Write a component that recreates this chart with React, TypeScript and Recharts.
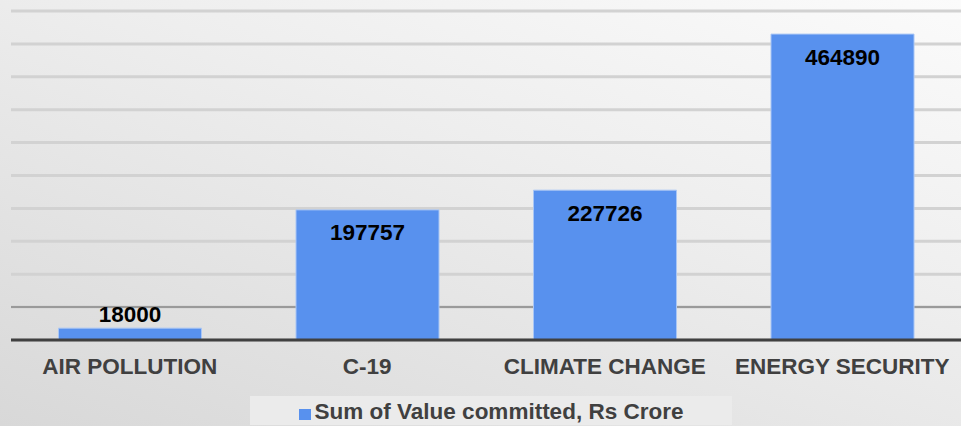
import { Bar, BarChart, CartesianGrid, LabelList, Legend, XAxis, YAxis } from 'recharts';

const categories = ['AIR POLLUTION', 'C-19', 'CLIMATE CHANGE', 'ENERGY SECURITY'];
const committed = [18000, 197757, 227726, 464890];
const yTicks = [0, 50000, 100000, 150000, 200000, 250000, 300000, 350000, 400000, 450000, 500000];

const SERIES_NAME = 'Sum of Value committed, Rs Crore';
const BLUE = '#5891ee';
const FONT = '"Liberation Sans", Arial, sans-serif';

const data = categories.map((name, i) => ({ name, value: committed[i] }));

type LabelProps = {
  x?: number;
  y?: number;
  width?: number;
  height?: number;
  value?: number;
};

const renderValueLabel = ({ x = 0, y = 0, width = 0, height = 0, value }: LabelProps) => {
  const inside = height > 40;
  return (
    <text
      x={x + width / 2}
      y={inside ? y + 23 : y - 14}
      fill="#000"
      textAnchor="middle"
      dominantBaseline="central"
      fontFamily={FONT}
      fontSize={22.5}
      fontWeight="bold"
    >
      {value}
    </text>
  );
};

const renderLegend = () => (
  <div
    style={{
      marginLeft: 250,
      width: 482,
      height: 29,
      background: '#ebebeb',
      display: 'flex',
      alignItems: 'center',
      justifyContent: 'center',
      paddingTop: 3,
      boxSizing: 'border-box',
      fontFamily: FONT,
      fontSize: 22.5,
      fontWeight: 'bold',
      color: '#404040',
    }}
  >
    <span style={{ width: 12, height: 11, background: BLUE, marginRight: 4, marginTop: 4 }} />
    <span>{SERIES_NAME}</span>
  </div>
);

export default function App() {
  return (
    <div
      style={{
        position: 'fixed',
        left: 0,
        top: 0,
        width: 961,
        height: 426,
        background: 'linear-gradient(200deg, #fbfbfb 0%, #eeeeee 40%, #d8d8d8 100%)',
      }}
    >
      <BarChart
        width={961}
        height={426}
        data={data}
        margin={{ top: 11, right: 0, bottom: 16, left: 11 }}
        barCategoryGap="20%"
      >
        <CartesianGrid vertical={false} stroke="#d2d2d2" strokeWidth={3} />
        <CartesianGrid vertical={false} horizontalValues={[50000]} stroke="#9a9a9a" strokeWidth={2} />
        <YAxis hide domain={[0, 500000]} ticks={yTicks} />
        <XAxis
          dataKey="name"
          height={40}
          tickSize={0}
          tickMargin={18}
          axisLine={{ stroke: '#404040', strokeWidth: 3 }}
          tick={{ fill: '#404040', fontFamily: FONT, fontSize: 22.5, fontWeight: 'bold' }}
          interval={0}
        />
        <Legend
          verticalAlign="bottom"
          height={30}
          content={renderLegend}
          wrapperStyle={{ left: 0, width: 961, bottom: 0 }}
        />
        <Bar
          dataKey="value"
          name={SERIES_NAME}
          fill={BLUE}
          stroke="#a9c6f5"
          strokeWidth={1}
          isAnimationActive={false}
        >
          <LabelList dataKey="value" content={renderValueLabel} />
        </Bar>
      </BarChart>
    </div>
  );
}
